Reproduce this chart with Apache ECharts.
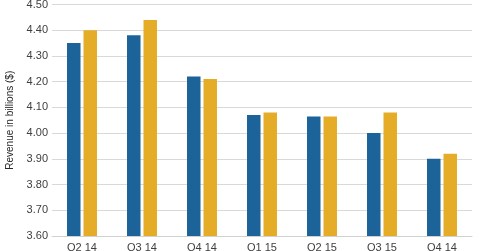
<!DOCTYPE html>
<html><head><meta charset="utf-8">
<script src="https://cdn.jsdelivr.net/npm/echarts@6/dist/echarts.min.js"></script>
<style>html,body{margin:0;padding:0;background:#fff}#c{width:480px;height:251px}</style>
</head><body><div id="c"></div>
<script>
const categories = ['Q2 14','Q3 14','Q4 14','Q1 15','Q2 15','Q3 15','Q4 14'];
const seriesA = [4.35, 4.38, 4.22, 4.07, 4.065, 4.00, 3.90];
const seriesB = [4.40, 4.44, 4.21, 4.08, 4.065, 4.08, 3.92];
const yMin = 3.6, yMax = 4.5, yStep = 0.1;

const chart = echarts.init(document.getElementById('c'), null, {renderer:'canvas'});
chart.setOption({
  animation:false,
  grid:{left:52,right:8,top:4.5,bottom:15,containLabel:false,outerBoundsMode:'none'},
  xAxis:{type:'category',data:categories,
    axisLine:{lineStyle:{color:'#d0d0d0'}},axisTick:{show:false},
    axisLabel:{color:'#404040',fontSize:11,fontFamily:'Arial, Liberation Sans, sans-serif',margin:6}},
  yAxis:{type:'value',min:yMin,max:yMax,interval:yStep,
    name:'Revenue in billions ($)',nameLocation:'middle',nameGap:30,
    nameTextStyle:{color:'#262626',fontSize:10,fontFamily:'Arial, Liberation Sans, sans-serif'},
    axisLine:{show:false},axisTick:{show:false},
    axisLabel:{color:'#404040',fontSize:11,fontFamily:'Arial, Liberation Sans, sans-serif',margin:4,
      formatter:v=>v.toFixed(2)},
    splitLine:{lineStyle:{color:'#d9d9d9'}}},
  series:[
    {type:'bar',data:seriesA,barWidth:13.5,barGap:'22%',itemStyle:{color:'#1b6398'}},
    {type:'bar',data:seriesB,barWidth:13.5,itemStyle:{color:'#e5ad27'}}
  ]
});
</script></body></html>
